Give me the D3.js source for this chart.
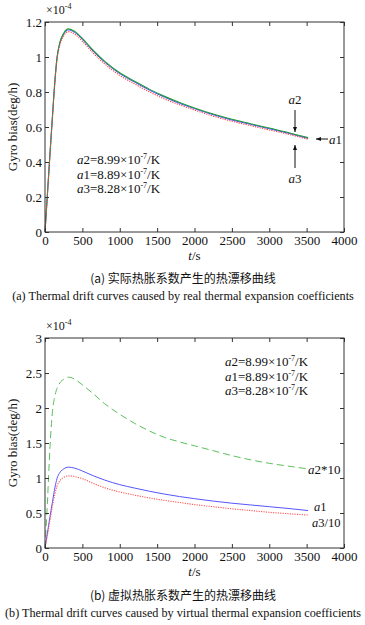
<!DOCTYPE html>
<html><head><meta charset="utf-8">
<script src="https://cdn.jsdelivr.net/npm/d3@7"></script>
<style>
body{margin:0;background:#fff;}
svg text{font-family:"Liberation Serif","Times New Roman",Times,serif;fill:#111;}
svg text.cn{font-family:"Noto Sans CJK SC",sans-serif;}
</style></head>
<body><svg id="c" width="365" height="625"></svg>
<script>
// time samples (s)
const tSec = [0,30,67,100,134,160,200,250,312,400,500,650,800,1000,1200,1400,1600,1800,2000,2250,2500,2750,3000,3250,3520];
// (a) real coefficients, x1e-4 deg/h
const a1Real = [0,0.2,0.45,0.66,0.87,0.99,1.08,1.13,1.155,1.14,1.10,1.03,0.97,0.905,0.856,0.81,0.77,0.735,0.705,0.67,0.64,0.615,0.59,0.565,0.535];
const a2Real = [0,0.2,0.45,0.665,0.875,0.995,1.085,1.136,1.161,1.146,1.106,1.036,0.975,0.91,0.861,0.815,0.775,0.74,0.709,0.674,0.644,0.619,0.594,0.569,0.539];
const a3Real = [0,0.195,0.44,0.655,0.86,0.98,1.07,1.12,1.145,1.13,1.09,1.02,0.96,0.895,0.846,0.80,0.76,0.727,0.697,0.662,0.633,0.608,0.583,0.559,0.53];
// (b) virtual coefficients
const a2x10 = [0,0.6,1.45,1.95,2.18,2.28,2.36,2.41,2.44,2.41,2.33,2.20,2.06,1.91,1.78,1.67,1.58,1.515,1.46,1.39,1.32,1.26,1.21,1.17,1.13];
const a1Virt = [0,0.2,0.45,0.66,0.87,0.99,1.08,1.13,1.155,1.14,1.10,1.03,0.97,0.905,0.856,0.81,0.77,0.735,0.705,0.67,0.64,0.615,0.59,0.565,0.535];
const a3div10 = [0,0.17,0.4,0.6,0.78,0.88,0.96,1.01,1.03,1.02,0.99,0.92,0.86,0.80,0.755,0.715,0.68,0.65,0.62,0.59,0.56,0.535,0.51,0.49,0.47];
const xTicks = [0,500,1000,1500,2000,2500,3000,3500,4000];
const yTicksA = [0,0.2,0.4,0.6,0.8,1,1.2];
const yTicksB = [0,0.5,1,1.5,2,2.5,3];
const legendNames = ["a2","a1","a3"];
const legendVals = ["=8.99×10","=8.89×10","=8.28×10"];

const SERIF = '"Liberation Serif","Times New Roman",Times,serif';
const svg = d3.select("#c");
const X0=45, X1=344;

function panel(top, bottom, yMax, yTicks, series){
  const x = d3.scaleLinear().domain([0,4000]).range([X0,X1]);
  const y = d3.scaleLinear().domain([0,yMax]).range([bottom,top]);
  const g = svg.append("g");
  const line = d3.line().x((d,i)=>x(tSec[i])).y(d=>y(d)).curve(d3.curveMonotoneX);
  series.forEach(s=>{
    g.append("path").datum(s.v).attr("d",line).attr("fill","none")
      .attr("stroke",s.c).attr("stroke-width",s.w||1).attr("stroke-dasharray",s.dash||null);
  });
  g.append("rect").attr("x",X0).attr("y",top).attr("width",X1-X0).attr("height",bottom-top)
    .attr("fill","none").attr("stroke","#333").attr("stroke-width",1);
  const fmt = d=>d3.format("~g")(d);
  const ax = d3.axisBottom(x).tickValues(xTicks).tickSize(-4).tickPadding(4).tickFormat(fmt);
  const axT = d3.axisTop(x).tickValues(xTicks).tickSize(-4).tickFormat("");
  const ay = d3.axisLeft(y).tickValues(yTicks).tickSize(-4).tickPadding(3).tickFormat(fmt);
  const ayR = d3.axisRight(y).tickValues(yTicks).tickSize(-4).tickFormat("");
  [[ax,`translate(0,${bottom})`],[axT,`translate(0,${top})`],[ay,`translate(${X0},0)`],[ayR,`translate(${X1},0)`]].forEach(([a,t])=>{
    const ag = g.append("g").attr("transform",t).call(a).attr("font-family",SERIF);
    ag.select(".domain").remove();
    ag.selectAll("line").attr("stroke","#333");
    ag.selectAll("text").attr("font-size",13).attr("fill","#111").attr("font-family",SERIF);
  });
  const e = g.append("text").attr("x",X0+1).attr("y",top-8).attr("font-size",12);
  e.append("tspan").text("×10");
  e.append("tspan").attr("dy",-5).attr("font-size",8).text("-4");
  g.append("text").attr("transform",`translate(17,${(top+bottom)/2}) rotate(-90)`)
    .attr("text-anchor","middle").attr("font-size",13).text("Gyro bias(deg/h)");
  const xl = g.append("text").attr("x",(X0+X1)/2).attr("y",bottom+28).attr("text-anchor","middle").attr("font-size",13);
  xl.append("tspan").attr("font-style","italic").text("t");
  xl.append("tspan").text("/s");
  return {x,y,g};
}

function legend(g,x0,y0){
  legendNames.forEach((n,i)=>{
    const t = g.append("text").attr("x",x0).attr("y",y0+i*14.5).attr("font-size",13);
    t.append("tspan").attr("font-style","italic").text(n[0]);
    t.append("tspan").text(n.slice(1)+legendVals[i]);
    t.append("tspan").attr("dy",-5).attr("font-size",8).text("-7");
    t.append("tspan").attr("dy",5).text("/K");
  });
}
function lab(g,x0,y0,txt,anchor,fs){
  const t = g.append("text").attr("x",x0).attr("y",y0).attr("font-size",fs||13).attr("text-anchor",anchor||"start");
  t.append("tspan").attr("font-style","italic").text(txt[0]);
  t.append("tspan").text(txt.slice(1));
}

svg.append("defs").append("marker").attr("id","ah").attr("viewBox","0 0 10 10")
  .attr("refX",10).attr("refY",5).attr("markerWidth",5).attr("markerHeight",5).attr("orient","auto")
  .append("path").attr("d","M0,1L10,5L0,9Z").attr("fill","#111");

// Panel (a)
const A = panel(22,232,1.2,yTicksA,[
  {v:a1Real,c:"#4a4aff"},
  {v:a2Real,c:"#1f9a3a",w:1.1},
  {v:a3Real,c:"#ff4040",dash:"1.2,1.2",w:1.1}
]);
legend(A.g,77,164);
lab(A.g,295,104,"a2","middle");
A.g.append("line").attr("x1",295).attr("y1",110).attr("x2",295).attr("y2",132).attr("stroke","#111").attr("marker-end","url(#ah)");
A.g.append("line").attr("x1",295).attr("y1",168).attr("x2",295).attr("y2",145).attr("stroke","#111").attr("marker-end","url(#ah)");
lab(A.g,295,183,"a3","middle");
A.g.append("line").attr("x1",328).attr("y1",139).attr("x2",316).attr("y2",139).attr("stroke","#111").attr("marker-end","url(#ah)");
lab(A.g,329,144,"a1");
svg.append("text").attr("class","cn").attr("x",183).attr("y",283).attr("text-anchor","middle").attr("font-size",12).text("(a) 实际热胀系数产生的热漂移曲线");
svg.append("text").attr("x",183).attr("y",300).attr("text-anchor","middle").attr("font-size",12.2).text("(a) Thermal drift curves caused by real thermal expansion coefficients");

// Panel (b)
const B = panel(338,548,3,yTicksB,[
  {v:a2x10,c:"#5cbf5c",dash:"7,4"},
  {v:a1Virt,c:"#5555ff"},
  {v:a3div10,c:"#ff5555",dash:"1.2,1.2",w:1.1}
]);
legend(B.g,225,366);
lab(B.g,308,474,"a2*10");
lab(B.g,314,511,"a1","start",12.5);
lab(B.g,312,527,"a3/10","start",12.5);
svg.append("text").attr("class","cn").attr("x",183).attr("y",600).attr("text-anchor","middle").attr("font-size",12).text("(b) 虚拟热胀系数产生的热漂移曲线");
svg.append("text").attr("x",183).attr("y",617).attr("text-anchor","middle").attr("font-size",12.2).text("(b) Thermal drift curves caused by virtual thermal expansion coefficients");
</script></body></html>
